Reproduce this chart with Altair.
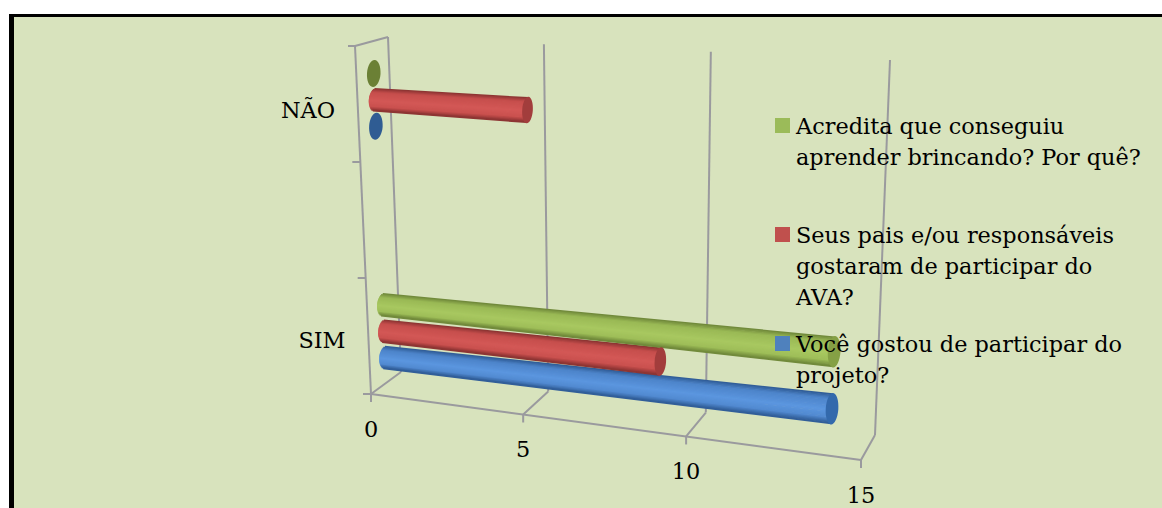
import math
import altair as alt
import pandas as pd

categories = ["SIM", "", "NÃO"]
series_names = [
    "Você gostou de participar do projeto?",
    "Seus pais e/ou responsáveis gostaram de participar do AVA?",
    "Acredita que conseguiu aprender brincando? Por quê?",
]
answers_sim = [14, 9, 14]
answers_nao = [0, 5, 0]
ticks = [0, 5, 10, 15]

legend_lines = [
    ["Você gostou de participar do", "projeto?"],
    ["Seus pais e/ou responsáveis", "gostaram de participar do", "AVA?"],
    ["Acredita que conseguiu", "aprender brincando? Por quê?"],
]
# dark edge, body, highlight, end cap, flat disc
palette = [
    ("#2F5C96", "#4D84CA", "#5B96DF", "#3369AC", "#2F5C93"),
    ("#8A3332", "#C64E4C", "#D35856", "#A23D3C", "#A33A39"),
    ("#6F8739", "#9AB955", "#A8C860", "#85A045", "#6B8035"),
]
legend_swatch = ["#4F81BD", "#C0504D", "#9BBB59"]

FONT = "DejaVu Serif"
FONT_SIZE = 22.4
GRID = "#9A9A9E"
BG = "#D8E3BD"
W, H = 1162, 508
V_MAX = 15
PERSPECTIVE = 1.11
SERIES_GAP = 0.076


def lerp(a, b, t):
    return (a[0] + (b[0] - a[0]) * t, a[1] + (b[1] - a[1]) * t)


def foreshorten(v):
    t = v / V_MAX
    return t / (t + PERSPECTIVE * (1 - t)) if t > 0 else 0.0


def mix(c1, c2, t):
    parts = [
        round(int(c1[j:j + 2], 16) * (1 - t) + int(c2[j:j + 2], 16) * t)
        for j in (1, 3, 5)
    ]
    return "#" + "".join(f"{p:02x}" for p in parts)


def shade(dark, body, light, w):
    # Cylinder lighting: dark rims, body colour, highlight just under the centre
    a = abs(w)
    if a > 0.65:
        return mix(body, dark, (a - 0.65) / 0.35)
    return mix(light, body, abs(w - 0.1) / 0.75)


# Box of the 3-D chart: each plane is given by its four corners
FRONT_FLOOR = ((371, 394), (861, 460))
BACK_FLOOR = ((401, 372), (875, 435))
BACK_TOP = ((388, 37), (890, 60))
MID_FLOOR = ((380.5, 389), (866.5, 447))
MID_TOP = ((366.5, 42), (882.5, 70))


def on_edge(edge, v):
    return lerp(edge[0], edge[1], foreshorten(v))


def mid_plane(v, u):
    return lerp(on_edge(MID_FLOOR, v), on_edge(MID_TOP, v), u)


def cylinder_rows(series, cat, value):
    u = (cat + 0.5) / len(categories) + (series - 1) * SERIES_GAP
    dark, body, light, cap, disc = palette[series]
    x0, y0 = mid_plane(0, u)
    x1, y1 = mid_plane(value, u)
    th0 = 24.0
    th1 = th0 + 8.0 * foreshorten(value)
    strands, caps, discs = [], [], []
    if value > 0:
        n = 23
        for i in range(n):
            w = -0.98 + 1.96 * i / (n - 1)
            colour = shade(dark, body, light, w)
            bulge = 6.0 * (1 - math.sqrt(1 - w * w))
            key = f"{series}-{cat}-{i}"
            strands.append(dict(key=key, c=colour, x=x0 + bulge - w * 0.8, y=y0 + w * (th0 / 2 - 1)))
            strands.append(dict(key=key, c=colour, x=x1 - w * 0.8, y=y1 + w * (th1 / 2 - 1)))
        caps.append(dict(x=x1, y=y1, c=cap, s=th1 ** 2))
    else:
        discs.append(dict(x=x0 + 6, y=y0, c=disc, s=27 ** 2))
    return strands, caps, discs


strand_rows, cap_rows, disc_rows = [], [], []
for s_idx in range(len(series_names)):
    for c_idx, vals in ((0, answers_sim), (2, answers_nao)):
        st, cp, dc = cylinder_rows(s_idx, c_idx, vals[s_idx])
        strand_rows += st
        cap_rows += cp
        disc_rows += dc

# Wall, floor and depth lines of the box
grid_rows = []


def add_line(name, *pts):
    for p in pts:
        grid_rows.append(dict(key=name, x=p[0], y=p[1]))


corner_top = (355, 46)
add_line("floor", FRONT_FLOOR[0], FRONT_FLOOR[1])
add_line("wall-left", corner_top, FRONT_FLOOR[0])
add_line("wall-top", corner_top, BACK_TOP[0])
add_line("corner-tick", (corner_top[0] - 7, corner_top[1]), corner_top)
for t in ticks:
    f = on_edge(FRONT_FLOOR, t)
    b = on_edge(BACK_FLOOR, t)
    top = on_edge(BACK_TOP, t)
    add_line(f"back-{t}", b, top)
    add_line(f"depth-{t}", f, b)
    add_line(f"tick-{t}", f, (f[0], f[1] + 8))
for i in range(len(categories)):
    p = lerp(FRONT_FLOOR[0], corner_top, i / len(categories))
    add_line(f"cat-tick-{i}", (p[0] - 8, p[1]), p)

# Tick and category labels sit at a fixed offset from the axis they belong to
label_rows = []
for t in ticks:
    f = on_edge(FRONT_FLOOR, t)
    label_rows.append(dict(x=f[0], y=f[1] + 43, text=str(t)))
label_rows.append(dict(x=308, y=mid_plane(0, 5 / 6)[1] + 18, text=categories[2]))
label_rows.append(dict(x=322, y=mid_plane(0, 1 / 6)[1] + 17, text=categories[0]))

# Hand-wrapped legend, listed top to bottom
legend_text, legend_marks = [], []
block_tops = {2: 134, 1: 243, 0: 352}
for s_idx, lines in enumerate(legend_lines):
    top = block_tops[s_idx]
    legend_marks.append(dict(x=782.5, y=top - 8.5, c=legend_swatch[s_idx]))
    for j, line in enumerate(lines):
        legend_text.append(dict(x=796, y=top + j * 31, text=line))

x_enc = alt.X("x:Q", scale=alt.Scale(domain=[0, W], nice=False, zero=False), axis=None)
y_enc = alt.Y("y:Q", scale=alt.Scale(domain=[H, 0], nice=False, zero=False), axis=None)
colour_enc = alt.Color("c:N", scale=None, legend=None)
size_enc = alt.Size("s:Q", scale=None, legend=None)

seed = alt.Chart(pd.DataFrame({"a": [0]}))
outer = seed.mark_rect(color="#000000").encode(
    x=alt.value(9), x2=alt.value(W), y=alt.value(14), y2=alt.value(H)
)
panel = seed.mark_rect(color=BG).encode(
    x=alt.value(14), x2=alt.value(W), y=alt.value(17), y2=alt.value(H)
)
grid = alt.Chart(pd.DataFrame(grid_rows)).mark_line(color=GRID, strokeWidth=2).encode(
    x=x_enc, y=y_enc, detail="key:N"
)
strands = alt.Chart(pd.DataFrame(strand_rows)).mark_line(strokeWidth=2, strokeCap="butt").encode(
    x=x_enc, y=y_enc, detail="key:N", color=colour_enc
)
cap_shape = "M0.07,-1 A0.4,1 4 1,1 -0.07,1 A0.4,1 4 1,1 0.07,-1 Z"
disc_shape = "M0.07,-1 A0.5,1 4 1,1 -0.07,1 A0.5,1 4 1,1 0.07,-1 Z"
caps = alt.Chart(pd.DataFrame(cap_rows)).mark_point(
    shape=cap_shape, filled=True, opacity=1
).encode(x=x_enc, y=y_enc, color=colour_enc, size=size_enc)
discs = alt.Chart(pd.DataFrame(disc_rows)).mark_point(
    shape=disc_shape, filled=True, opacity=1
).encode(x=x_enc, y=y_enc, color=colour_enc, size=size_enc)
labels = alt.Chart(pd.DataFrame(label_rows)).mark_text(
    font=FONT, fontSize=FONT_SIZE, color="#000000", align="center", baseline="alphabetic"
).encode(x=x_enc, y=y_enc, text="text:N")
swatches = alt.Chart(pd.DataFrame(legend_marks)).mark_point(
    shape="square", filled=True, opacity=1, size=225
).encode(x=x_enc, y=y_enc, color=colour_enc)
legend = alt.Chart(pd.DataFrame(legend_text)).mark_text(
    font=FONT, fontSize=FONT_SIZE, color="#000000", align="left", baseline="alphabetic"
).encode(x=x_enc, y=y_enc, text="text:N")

chart = alt.layer(outer, panel, grid, strands, discs, caps, labels, swatches, legend).properties(
    width=W, height=H, padding=0, autosize=alt.AutoSizeParams(type="none"),
    background="#FFFFFF",
).configure_view(stroke=None)

chart.save("out.html", embed_options={"renderer": "svg", "actions": False})
